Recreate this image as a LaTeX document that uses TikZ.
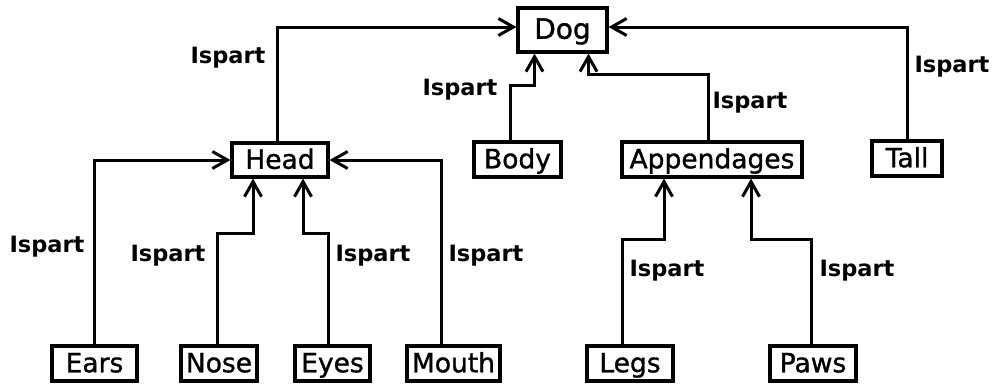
\documentclass[tikz,border=0pt]{standalone}
\usepackage{fontspec}
\setmainfont{DejaVu Sans}
\newfontfamily\nodefont[FakeBold=1.2]{DejaVu Sans}
\usetikzlibrary{arrows.meta}
\begin{document}
\begin{tikzpicture}[x=1pt,y=-1pt,
  part/.style={draw,line width=3.2pt,inner sep=0pt,font=\nodefont\fontsize{26.5}{30}\selectfont,minimum height=35pt,text height=19pt,text depth=1.5pt},
  lbl/.style={font=\bfseries\fontsize{22.5}{25}\selectfont,inner sep=0pt},
  arr/.style={line width=3pt,-{Straight Barb[length=15pt,width=17pt,line width=3pt]}}]
\useasboundingbox (0,0) rectangle (999,383);
\fill[white] (0,0) rectangle (999,383);
% nodes
\node[part,minimum width=89pt,minimum height=44pt,font=\nodefont\fontsize{28}{30}\selectfont] (dog) at (562.5,30) {Dog};
\node[part,minimum width=96pt,minimum height=34pt] (head) at (280,160) {Head};
\node[part,minimum width=87pt] (body) at (517.5,159.5) {Body};
\node[part,minimum width=180pt] (app) at (712,159.5) {Appendages};
\node[part,minimum width=70pt] (tail) at (907,158.5) {Tall};
\node[part,minimum width=85pt] (ears) at (94.5,363.5) {Ears};
\node[part,minimum width=76pt] (nose) at (219,363.5) {Nose};
\node[part,minimum width=75pt] (eyes) at (332.5,363.5) {Eyes};
\node[part,minimum width=93pt] (mouth) at (453.5,363.5) {Mouth};
\node[part,minimum width=86pt] (legs) at (630,363.5) {Legs};
\node[part,minimum width=86pt] (paws) at (813,363.5) {Paws};
% connectors
\draw[arr] ([xshift=-3pt]head.north) |- ([yshift=3pt]dog.west);
\draw[arr] (tail.north) |- ([yshift=3pt]dog.east);
\draw[arr] ([xshift=-7pt]body.north) -- ++(0,-55) -| ([xshift=-28pt]dog.south);
\draw[arr] ([xshift=-4pt]app.north) -- ++(0,-66) -| ([xshift=26pt]dog.south);
\draw[arr] (ears.north) |- (head.west);
\draw[arr] ([xshift=-12pt]mouth.north) |- (head.east);
\draw[arr] ([xshift=-2pt]nose.north) -- ++(0,-111) -| ([xshift=-27pt]head.south);
\draw[arr] ([xshift=-4pt]eyes.north) -- ++(0,-111) -| ([xshift=23pt]head.south);
\draw[arr] ([xshift=-8pt]legs.north) -- ++(0,-105) -| ([xshift=-48pt]app.south);
\draw[arr] ([xshift=-2pt]paws.north) -- ++(0,-105) -| ([xshift=39pt]app.south);
% labels
\node[lbl] (l1) at (228,58) {Ispart};
\node[lbl] (l2) at (460,90) {Ispart};
\node[lbl] (l3) at (750,103) {Ispart};
\node[lbl] (l4) at (952,67) {Ispart};
\node[lbl] (l5) at (47,247) {Ispart};
\node[lbl] (l6) at (168,256) {Ispart};
\node[lbl] (l7) at (373,256) {Ispart};
\node[lbl] (l8) at (486,256) {Ispart};
\node[lbl] (l9) at (667,271) {Ispart};
\node[lbl] (l10) at (857,271) {Ispart};
\end{tikzpicture}
\end{document}
